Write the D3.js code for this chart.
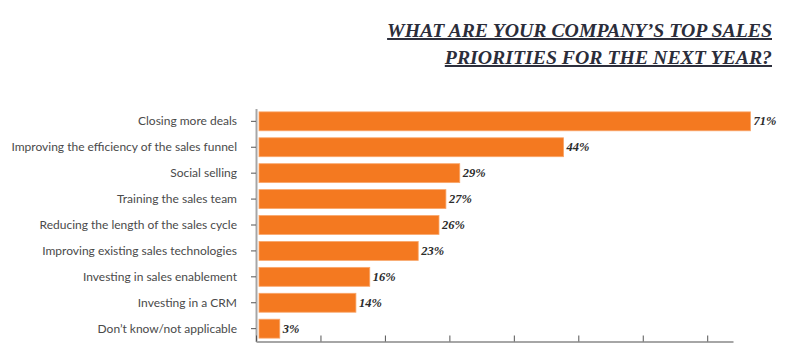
<!DOCTYPE html>
<html>
<head>
<meta charset="utf-8">
<script src="https://cdn.jsdelivr.net/npm/d3@7"></script>
<style>
  body { margin: 0; background: #fff; }
  svg { display: block; }
</style>
</head>
<body>
<div id="chart"></div>
<script>
// chart data
var categories = [
	'Closing more deals',
	'Improving the efficiency of the sales funnel',
	'Social selling',
	'Training the sales team',
	'Reducing the length of the sales cycle',
	'Improving existing sales technologies',
	'Investing in sales enablement',
	'Investing in a CRM',
	'Don\u2019t know/not applicable'
];
var values     = [71, 44, 29, 27, 26, 23, 16, 14, 3];
var axisTicks  = [0, 1, 2, 3, 4, 5, 6, 7];
var titleLines = ['WHAT ARE YOUR COMPANY\u2019S TOP SALES', 'PRIORITIES FOR THE NEXT YEAR?'];

var width  = 800,
	height = 358;

var svg = d3.select('#chart').append('svg')
	.attr('width', width)
	.attr('height', height);

// title
svg.append('g').selectAll('text')
	.data(titleLines)
	.enter().append('text')
	.attr('x', 772)
	.attr('y', function(d, i){ return 37 + i * 27; })
	.attr('text-anchor', 'end')
	.style('font-family', '"Liberation Serif", serif')
	.style('font-weight', 'bold')
	.style('font-style', 'italic')
	.style('font-size', '19.8px')
	.style('text-decoration', 'underline')
	.style('fill', '#2b2d3a')
	.text(function(d){ return d; });

// scales
var x = d3.scaleLinear().domain([0, 71]).range([259, 750.5]);
var y = d3.scaleBand().domain(categories).range([108.5, 341.5]).paddingInner(0.27).paddingOuter(0.13);
var xAxisScale = d3.scaleLinear().domain([0, 7.4]).range([256, 733]);

// bars
svg.append('g').selectAll('rect')
	.data(values)
	.enter().append('rect')
	.attr('x', x(0))
	.attr('y', function(d, i){ return y(categories[i]); })
	.attr('width', function(d){ return x(d) - x(0); })
	.attr('height', y.bandwidth())
	.style('fill', '#f47920')
	.style('stroke', '#f9a66a')
	.style('stroke-width', 0.8);

// value labels
svg.append('g').selectAll('text')
	.data(values)
	.enter().append('text')
	.attr('x', function(d){ return x(d) + 3; })
	.attr('y', function(d, i){ return y(categories[i]) + y.bandwidth() / 2 + 4; })
	.style('font-family', '"Liberation Serif", serif')
	.style('font-weight', 'bold')
	.style('font-style', 'italic')
	.style('font-size', '12.5px')
	.style('fill', '#2b2b2b')
	.text(function(d){ return d + '%'; });

// y axis
var yAxis = svg.append('g')
	.attr('transform', 'translate(256,0)')
	.call(d3.axisLeft(y).tickSize(5).tickPadding(14).tickSizeOuter(0));

yAxis.select('.domain').style('stroke', '#a6a6a6').style('stroke-width', 2);
yAxis.selectAll('.tick line').style('stroke', '#555');
yAxis.selectAll('.tick text')
	.style('font-family', 'Lato, sans-serif')
	.style('font-size', '12px')
	.style('fill', '#4a4a4a');

// x axis (no labels)
var xAxis = svg.append('g')
	.attr('transform', 'translate(0,341.5)')
	.call(d3.axisTop(xAxisScale).tickValues(axisTicks).tickSize(6).tickSizeOuter(0).tickFormat(''));

xAxis.select('.domain').style('stroke', '#a6a6a6').style('stroke-width', 2);
xAxis.selectAll('.tick line').style('stroke', '#555');
</script>
</body>
</html>
